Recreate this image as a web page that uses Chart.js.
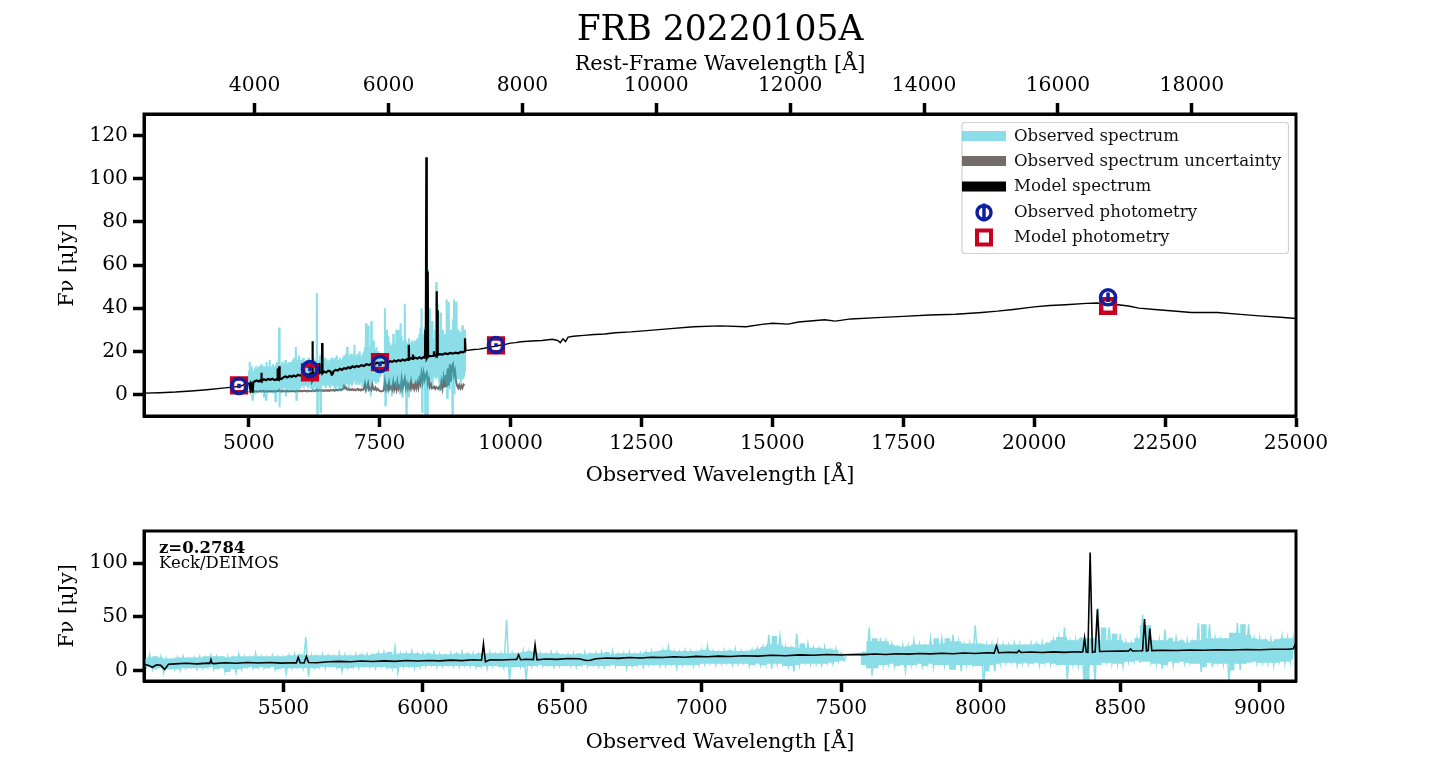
<!DOCTYPE html>
<html>
<head>
<meta charset="utf-8">
<title>FRB 20220105A</title>
<script src="https://cdn.jsdelivr.net/npm/chart.js@4"></script>
<style>
  html, body { margin: 0; padding: 0; background: #fff; overflow: hidden; }
  canvas { position: absolute; left: 0; }
  #sedChart { top: 0; }
  #specChart { top: 500px; }
</style>
</head>
<body>
<canvas id="sedChart" width="1440" height="490"></canvas>
<canvas id="specChart" width="1440" height="257"></canvas>
<script>
const titleText = 'FRB 20220105A';
const redshift = 1.2784;
const obsLabel = 'Observed Wavelength [Å]';
const restLabel = 'Rest-Frame Wavelength [Å]';
const fluxLabel = 'Fν [μJy]';

const sedXTicks = [5000, 7500, 10000, 12500, 15000, 17500, 20000, 22500, 25000];
const restTicks = [4000, 6000, 8000, 10000, 12000, 14000, 16000, 18000];
const sedYTicks = [0, 20, 40, 60, 80, 100, 120];
const specXTicks = [5500, 6000, 6500, 7000, 7500, 8000, 8500, 9000];
const specYTicks = [0, 50, 100];

// observed spectrum, upper and lower edge of the noise, one value per 20 A from 5000 A
const obsHigh = [
  11, 15, 12, 13, 11, 10, 12, 13, 11, 12,
  13, 12, 14, 13, 11, 13, 12, 15, 13, 12,
  16, 13, 12, 14, 13, 12, 14, 15, 13, 31,
  14, 13, 15, 14, 13, 16, 14, 13, 15, 14,
  15, 14, 16, 17, 15, 22, 15, 16, 18, 15,
  16, 15, 17, 15, 14, 16, 15, 17, 15, 16,
  15, 16, 17, 15, 16, 47, 16, 15, 18, 17,
  18, 16, 15, 17, 16, 14, 15, 16, 14, 17,
  15, 16, 17, 15, 18, 15, 16, 17, 15, 16,
  17, 18, 16, 19, 22, 18, 17, 19, 18, 17,
  19, 23, 18, 17, 19, 18, 20, 18, 17, 19,
  20, 22, 33, 24, 32, 22, 20, 34, 21, 25,
  21, 20, 22, 19, 20, 16, 15, 15, 16, 17,
  40, 27, 30, 27, 24, 21, 23, 22, 28, 24,
  22, 30, 24, 30, 25, 33, 27, 24, 25, 42,
  25, 23, 24, 26, 24, 23, 25, 24, 22, 25,
  24, 26, 23, 28, 31, 40, 26, 28, 31, 30,
  28, 58, 27, 40, 28, 34, 26, 25, 30, 52,
  42, 26, 28, 38, 27, 30, 26, 28, 26, 44,
  28, 43, 30, 28, 30, 35, 44, 33, 43, 29,
  30, 27, 29, 26, 32, 30, 30
];
const obsLow = [
  3, 1, 4, -2.5, 2, 1, 0, 2, 3, 1,
  2, 3, 1, 3, -1.5, 2, -2.5, 1, 3, 2,
  3, 2, 3, 1, 3, -3, 2, 3, 2, -6,
  2, 3, 2, 4, 3, -1, 2, 3, 2, 4,
  3, 2, 4, 3, 2, -2.5, 3, 4, 2, 3,
  4, 5, 3, 4, 5, 4, 3, 5, 4, 3,
  4, 1.5, 4, 5, 3, -10, 4, 3, -8, 4,
  5, 4, 5, 3, 4, 5, 4, 3, 5, 4,
  5, 4, 3, 5, 4, 6, 2, 4, 5, 3,
  5, 6, 4, 5, 6, 2, 5, 6, 4, 5,
  6, 7, 5, 6, 7, 5, 6, 7, 4, 6,
  5, 6, 1.5, 6, 7, 4, -1, 5, 7, 6,
  6, 5, 7, 6, 8, 9, 14, 14.5, 14, 5,
  -5, 2, 5, 6, 4, 7, -1, 5, 7, 4,
  6, 3, 7, 5, 0.5, 6, -1, 5, 7, 4,
  -14, 5, -1, 6, 7, 8, 5, 7, 6, 8,
  5, 7, 6, 8, 5, -8, 6, 5, -10, 6,
  -12, 5, 9, 7, 6, 4, 8, 9, 7, 10,
  8, 6, 1.5, 8, 5, 9, 7, 8, 6, -1.5,
  7, 3, 8, 6, -12, 7, 0, 6, 8, 7,
  8, 7, 5, 9, 7, 8, 10
];
const uncFlux = [
  1.5, 1.2, 1.6, 1.3, 1.5, 1.2, 1.6, 1.4, 1.5, 1.3,
  1.4, 1.6, 1.3, 1.5, 1.7, 1.2, 1.5, 1.6, 1.3, 1.5,
  1.6, 1.3, 1.5, 1.4, 1.7, 1.3, 1.5, 1.6, 1.4, 2.0,
  1.5, 1.3, 1.6, 1.4, 1.5, 1.7, 1.3, 1.6, 1.4, 1.5,
  1.6, 1.4, 1.7, 1.5, 1.3, 1.6, 1.8, 1.4, 1.6, 1.5,
  1.7, 1.4, 1.6, 1.8, 1.5, 1.7, 1.4, 1.8, 1.6, 1.5,
  1.6, 1.9, 1.5, 1.7, 1.6, 2.2, 1.6, 1.8, 2.0, 1.7,
  1.7, 2.0, 1.6, 1.8, 2.0, 1.7, 1.9, 1.6, 2.1, 1.8,
  1.9, 2.1, 1.7, 2.0, 2.2, 1.8, 2.1, 2.4, 1.9, 2.2,
  2.6, 4.0, 2.8, 3.2, 2.2, 2.6, 2.0, 2.4, 2.1, 2.5,
  2.0, 2.3, 1.9, 2.2, 2.6, 2.0, 2.3, 1.9, 2.4, 2.1,
  2.6, 5.0, 2.0, 3.5, 5.2, 2.2, 3.0, 2.1, 4.6, 2.5,
  2.2, 3.2, 2.0, 2.6, 2.1, 1.6, 1.5, 1.5, 1.6, 2.0,
  6.0, 2.4, 4.0, 2.2, 5.5, 2.6, 3.5, 2.2, 5.8, 2.4,
  4.5, 2.4, 6.0, 2.6, 3.8, 2.4, 7.0, 3.0, 5.5, 7.4,
  3.0, 5.0, 2.6, 4.5, 2.8, 6.0, 3.0, 4.2, 2.6, 5.0,
  3.0, 5.5, 3.2, 7.0, 5.0, 9.7, 6.0, 10, 7, 9,
  10, 5, 7, 3.5, 4.8, 2.8, 3.0, 3.6, 2.6, 3.4,
  3.0, 2.6, 3.6, 2.8, 6.0, 3.0, 7.5, 3.2, 9, 3.5,
  12, 4, 14, 6, 13, 14, 9, 11, 6, 4,
  3, 4.3, 2.8, 4, 3, 4.5, 4
];

const modelWave = [
  3000, 3300, 3600, 3900, 4200, 4500, 4700, 4850,
  5000, 5015, 5030, 5045, 5060, 5074, 5088, 5110,
  5150, 5190, 5230, 5236, 5240, 5244, 5250, 5290,
  5330, 5370, 5410, 5450, 5490, 5530, 5546, 5553,
  5560, 5574, 5582, 5590, 5620, 5660, 5700, 5740,
  5780, 5820, 5860, 5900, 5940, 5980, 6020, 6060,
  6100, 6140, 6180, 6210, 6217, 6224, 6240, 6280,
  6320, 6336, 6343, 6350, 6370, 6396, 6402, 6409,
  6440, 6480, 6520, 6560, 6585, 6600, 6620, 6660,
  6700, 6740, 6780, 6820, 6860, 6900, 6940, 6980,
  7020, 7060, 7100, 7150, 7200, 7250, 7300, 7350,
  7400, 7450, 7500, 7540, 7580, 7620, 7660, 7700,
  7740, 7780, 7820, 7860, 7900, 7940, 7980, 8020,
  8048, 8056, 8064, 8100, 8130, 8137, 8144, 8180,
  8220, 8260, 8300, 8340, 8360, 8366, 8372, 8378,
  8384, 8392, 8400, 8410, 8418, 8426, 8460, 8500,
  8530, 8537, 8544, 8575, 8580, 8587, 8594, 8600,
  8606, 8613, 8650, 8700, 8750, 8800, 8850, 8900,
  8950, 9000, 9050, 9100, 9120, 9130, 9140, 9300,
  9400, 9500, 9600, 9700, 9800, 9900, 10000, 10100,
  10200, 10400, 10600, 10800, 10900, 10950, 11000, 11050,
  11100, 11200, 11400, 11600, 11800, 12000, 12300, 12600,
  13000, 13500, 14000, 14500, 14800, 15000, 15300, 15500,
  16000, 16200, 16500, 17000, 17500, 18000, 18500, 19000,
  19300, 19600, 20000, 20300, 20600, 21000, 21200, 21400,
  21600, 21800, 22000, 22300, 22600, 23000, 23500, 24000,
  24300, 24700, 25000
];
const modelFlux = [
  0.6, 0.8, 1.1, 1.6, 2.2, 2.9, 3.4, 3.9,
  5.4, 4.6, 2.8, 5.2, 4.6, 0.8, 5.6, 6.0,
  6.5, 6.0, 6.7, 6.4, 10, 6.6, 6.2, 7.0,
  6.6, 7.2, 6.8, 7.3, 6.7, 7.0, 6.9, 12,
  7.0, 6.8, 13, 7.3, 7.1, 7.9, 8.3, 7.9,
  8.6, 8.2, 8.8, 8.3, 9.1, 8.7, 9.2, 8.8,
  9.5, 9.0, 9.8, 9.4, 24.7, 8.0, 9.8, 9.6,
  10, 10.1, 14.5, 9.9, 10.3, 10, 23.8, 9.8,
  10.6, 10.2, 11, 10.7, 9.2, 9.4, 10.8, 11.4,
  11.1, 11.9, 11.4, 12.2, 11.9, 12.6, 12.2, 13,
  12.6, 13.2, 12.8, 13.6, 13.2, 14, 13.6, 14.4,
  14, 14.7, 14.3, 14.8, 14.6, 15.2, 14.8, 15.4,
  15.1, 15.7, 15.3, 15.9, 15.5, 16.2, 15.7, 16.3,
  16, 23, 16.4, 16.8, 16.5, 18.5, 16.6, 17,
  16.6, 17.2, 16.7, 17.3, 17, 17.4, 30, 17,
  16.8, 110, 16.8, 17.3, 57, 17.5, 17.8, 17.9,
  18, 20, 18, 18.2, 18.3, 47.8, 18, 18.3,
  39, 18.4, 18.7, 18.5, 19, 18.7, 19.2, 18.9,
  19.4, 19.1, 19.7, 19.6, 20, 26, 20.3, 20.8,
  21, 21.4, 22, 22.3, 22.8, 23.2, 23.8, 24,
  24.4, 24.8, 25, 25.6, 25, 24, 25.8, 24.5,
  26.6, 27, 27.4, 27.8, 28, 28.6, 29, 29.6,
  30.4, 31.4, 31.8, 31.4, 32.5, 33, 32.6, 33.6,
  34.6, 34, 35, 35.6, 36.2, 36.8, 37.2, 38,
  38.6, 39.4, 40.6, 41.2, 41.6, 42.2, 42.4, 41.6,
  41.6, 41, 40, 39.4, 38.8, 38, 38, 37,
  36.4, 35.8, 35.2
];

const photWave = [4814, 6170, 7507, 9722, 21411];
const photObs = [3.9, 11.8, 14.1, 22.9, 45];
const photErr = [1.0, 1.0, 1.0, 0.8, 2.2];
const photModel = [4.2, 10.2, 15, 22.7, 41];

const legendLabels = ['Observed spectrum', 'Observed spectrum uncertainty', 'Model spectrum', 'Observed photometry', 'Model photometry'];
const noteBold = 'z=0.2784';
const noteLine = 'Keck/DEIMOS';

const serif = '"DejaVu Serif", serif';
const cyan = 'rgba(23, 190, 207, 0.5)';
const cyanSolid = '#8bdee7';
const grey = '#746b6b';
const blue = '#0f1f9f';
const red = '#c8001e';

// the noisy spectrum is drawn as a zigzag between its two edges
const obsLine = [];
obsHigh.forEach((v, i) => {
  const w = 5000 + i * 20;
  obsLine.push({x: w, y: v}, {x: w + 10, y: obsLow[i]});
});
const uncLine = uncFlux.map((v, i) => ({x: 5000 + i * 20, y: v}));
const modelLine = modelWave.map((w, i) => ({x: w, y: modelFlux[i]}));
const errLine = [];
photWave.forEach((w, i) => {
  errLine.push({x: w, y: photObs[i] - photErr[i]}, {x: w, y: photObs[i] + photErr[i]}, {x: w, y: null});
});

// solid band under the zigzag: the edges with the single spikes taken out
function despiked(arr) {
  return arr.map((v, i) => {
    const near = [arr[Math.max(i - 1, 0)], v, arr[Math.min(i + 1, arr.length - 1)]];
    near.sort((a, b) => a - b);
    return {x: 5000 + i * 20, y: near[1]};
  });
}

function lineSet(label, data, color, width) {
  return {label, data, showLine: true, borderColor: color, borderWidth: width, pointRadius: 0, tension: 0, spanGaps: false};
}

function axis(min, max, ticks, pos, label, fitSize, titlePad) {
  return {
    type: 'linear', position: pos, min, max,
    border: {color: '#000', width: 3},
    grid: {drawOnChartArea: false, tickLength: 11, tickWidth: 3.5, tickColor: '#000'},
    ticks: {color: '#000', font: {family: serif, size: 20.3}, autoSkip: false, maxRotation: 0, padding: 5, callback: v => v},
    title: {display: true, text: label, color: '#000', font: {family: serif, size: 20.8}, padding: {top: titlePad, bottom: 2}},
    afterBuildTicks: s => { s.ticks = ticks.map(v => ({value: v})); },
    afterFit: s => {
      if (pos === 'left') s.width = fitSize; else s.height = fitSize;
    }
  };
}

// empty axis on the right, keeps the plot in place and the title centred on the page
const rightSpace = {
  type: 'linear', position: 'right', min: -10, max: 130,
  border: {display: false}, grid: {display: false}, ticks: {display: false},
  afterFit: s => { s.width = 144; }
};

const framePlugin = {
  id: 'frame',
  afterDatasetsDraw(chart) {
    const a = chart.chartArea, c = chart.ctx;
    c.save();
    c.strokeStyle = '#000';
    c.lineWidth = 3;
    c.strokeRect(a.left, a.top, a.right - a.left, a.bottom - a.top);
    c.restore();
  }
};

const legendPlugin = {
  id: 'sedLegend',
  afterDraw(chart) {
    const c = chart.ctx;
    c.save();
    c.fillStyle = 'rgba(255,255,255,0.8)';
    c.strokeStyle = '#d0d0d0';
    c.lineWidth = 1.2;
    c.beginPath();
    c.roundRect(962, 122.5, 326.5, 131, 3);
    c.fill();
    c.stroke();
    const rows = [136.5, 161.5, 187, 212.5, 237.5];
    const swatches = [cyan, grey, '#000'];
    c.font = '16.6px ' + serif;
    c.textBaseline = 'middle';
    legendLabels.forEach((text, i) => {
      const y = rows[i];
      if (i < 3) {
        c.fillStyle = swatches[i];
        c.fillRect(962, y - 5.5, 44, 10);
      } else if (i === 3) {
        c.strokeStyle = blue;
        c.lineWidth = 3.5;
        c.beginPath();
        c.arc(984, y, 7, 0, Math.PI * 2);
        c.moveTo(984, y - 9);
        c.lineTo(984, y + 9);
        c.stroke();
      } else {
        c.strokeStyle = red;
        c.lineWidth = 4;
        c.strokeRect(977, y - 7, 14, 14);
      }
      c.fillStyle = '#111';
      c.fillText(text, 1014, y);
    });
    c.restore();
  }
};

const notePlugin = {
  id: 'note',
  afterDraw(chart) {
    const c = chart.ctx;
    c.save();
    c.fillStyle = '#000';
    c.textBaseline = 'middle';
    c.font = 'bold 16.5px ' + serif;
    c.fillText(noteBold, 159, 48.5);
    c.font = '16.5px ' + serif;
    c.fillText(noteLine, 159, 63.5);
    c.restore();
  }
};

new Chart(document.getElementById('sedChart'), {
  type: 'scatter',
  data: {
    datasets: [
      {label: legendLabels[3], data: photWave.map((w, i) => ({x: w, y: photObs[i]})), pointStyle: 'circle', pointRadius: 7.5, pointBorderWidth: 3.5, pointBorderColor: blue, pointBackgroundColor: 'transparent'},
      lineSet('Photometry error', errLine, blue, 3.5),
      {label: legendLabels[4], data: photWave.map((w, i) => ({x: w, y: photModel[i]})), pointStyle: 'rect', pointRadius: 9.7, pointBorderWidth: 4.5, pointBorderColor: red, pointBackgroundColor: 'transparent'},
      // the model is much denser over the observed range, so it reads thicker there
      Object.assign(lineSet(legendLabels[2], modelLine, '#000', 1.4), {
        segment: {borderWidth: ctx => (ctx.p0.parsed.x >= 5000 && ctx.p0.parsed.x < 9140 ? 2.2 : 1.4)}
      }),
      lineSet(legendLabels[0], obsLine, cyan, 2),
      lineSet(legendLabels[1], uncLine, grey, 2)
    ]
  },
  options: {
    responsive: false,
    animation: false,
    layout: {padding: {left: 0, right: 0, top: 10, bottom: 0}},
    plugins: {
      legend: {display: false},
      tooltip: {enabled: false},
      title: {display: true, text: titleText, color: '#000', font: {family: serif, size: 34.5, weight: 'normal'}, padding: {top: 0, bottom: 0}}
    },
    scales: {
      x: axis(3000, 25000, sedXTicks, 'bottom', obsLabel, 74, 1),
      x2: axis(3000 / redshift, 25000 / redshift, restTicks, 'top', restLabel, 62.6, 1),
      y: axis(-10, 130, sedYTicks, 'left', fluxLabel, 144, 55),
      yr: rightSpace
    }
  },
  plugins: [framePlugin, legendPlugin]
});

new Chart(document.getElementById('specChart'), {
  type: 'scatter',
  data: {
    datasets: [
      lineSet(legendLabels[2], modelLine, '#000', 1.6),
      lineSet(legendLabels[0], obsLine, cyanSolid, 1.5),
      Object.assign(lineSet('Band upper', despiked(obsHigh), cyanSolid, 0), {stepped: 'middle', fill: '+1', backgroundColor: cyanSolid}),
      Object.assign(lineSet('Band lower', despiked(obsLow), cyanSolid, 0), {stepped: 'middle'})
    ]
  },
  options: {
    responsive: false,
    animation: false,
    layout: {padding: {left: 0, right: 0, top: 31, bottom: 0}},
    plugins: {legend: {display: false}, tooltip: {enabled: false}},
    scales: {
      x: axis(5000, 9130, specXTicks, 'bottom', obsLabel, 76, 3),
      y: axis(-10, 130, specYTicks, 'left', fluxLabel, 144, 55),
      yr: rightSpace
    }
  },
  plugins: [framePlugin, notePlugin]
});
</script>
</body>
</html>
